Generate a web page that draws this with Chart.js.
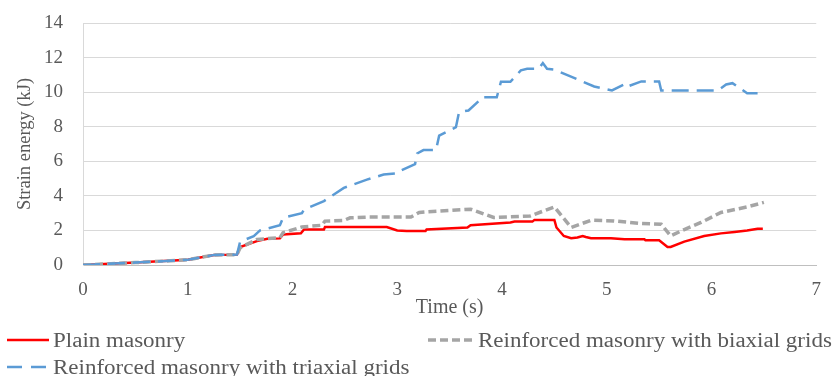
<!DOCTYPE html>
<html>
<head>
<meta charset="utf-8">
<script src="https://cdn.jsdelivr.net/npm/chart.js@4.4.1/dist/chart.umd.min.js"></script>
<style>
  html, body { margin: 0; padding: 0; background: #fff; }
  #wrap { position: relative; width: 835px; height: 376px; overflow: hidden; }
  canvas { position: absolute; left: 0; top: 0; }
  .leg { position: absolute; height: 20px; line-height: 20px; font-family: "Liberation Serif", "Times New Roman", serif; font-size: 20px; color: #595959; white-space: nowrap; display: flex; align-items: center; }
  .leg span { display: inline-block; transform: scaleX(1.15); transform-origin: 0 50%; margin-left: 4px; }
</style>
</head>
<body>
<div id="wrap">
  <canvas id="c" width="835" height="376"></canvas>
  <div class="leg" style="left:7px; top:330px;"><svg width="42" height="6"><line x1="0" y1="3" x2="42" y2="3" stroke="#FF0000" stroke-width="2.5"/></svg><span>Plain masonry</span></div>
  <div class="leg" style="left:428px; top:330px;"><svg width="46" height="6"><line x1="0" y1="3" x2="46" y2="3" stroke="#A5A5A5" stroke-width="3.5" stroke-dasharray="8,4"/></svg><span>Reinforced masonry with biaxial grids</span></div>
  <div class="leg" style="left:7px; top:356.5px;"><svg width="42" height="6"><line x1="0" y1="3" x2="42" y2="3" stroke="#5B9BD5" stroke-width="2.5" stroke-dasharray="15,9"/></svg><span>Reinforced masonry with triaxial grids</span></div>
</div>
<script>
// ---- data ----
const xTicks = [0, 1, 2, 3, 4, 5, 6, 7];
const yTicks = [0, 2, 4, 6, 8, 10, 12, 14];

const timePlain = [0, 0.5, 1.0, 1.25, 1.47, 1.5, 1.66, 1.76, 1.88, 1.91, 2.08, 2.11, 2.3, 2.31, 2.9, 3.0, 3.09, 3.27, 3.28, 3.67, 3.70, 4.08, 4.12, 4.29, 4.31, 4.50, 4.52, 4.59, 4.66, 4.72, 4.77, 4.80, 4.85, 5.04, 5.17, 5.36, 5.37, 5.50, 5.58, 5.61, 5.74, 5.93, 6.09, 6.22, 6.34, 6.44, 6.49];
const energyPlain = [0, 0.14, 0.3, 0.58, 0.6, 1.04, 1.38, 1.52, 1.54, 1.77, 1.83, 2.06, 2.06, 2.2, 2.2, 2.0, 1.97, 1.97, 2.05, 2.17, 2.30, 2.46, 2.51, 2.51, 2.61, 2.61, 2.17, 1.68, 1.55, 1.59, 1.68, 1.62, 1.55, 1.55, 1.49, 1.49, 1.43, 1.43, 1.04, 1.04, 1.35, 1.68, 1.83, 1.91, 2.0, 2.1, 2.1];

const timeBiaxial = [0, 0.5, 1.0, 1.25, 1.47, 1.5, 1.66, 1.88, 1.91, 2.09, 2.28, 2.31, 2.49, 2.55, 2.71, 3.13, 3.21, 3.27, 3.70, 3.92, 4.27, 4.50, 4.66, 4.85, 5.07, 5.33, 5.52, 5.61, 5.71, 5.90, 6.09, 6.34, 6.5];
const energyBiaxial = [0, 0.14, 0.3, 0.58, 0.6, 1.0, 1.48, 1.58, 1.87, 2.2, 2.3, 2.54, 2.58, 2.73, 2.77, 2.77, 3.04, 3.07, 3.23, 2.75, 2.84, 3.36, 2.17, 2.59, 2.55, 2.40, 2.36, 1.68, 1.97, 2.46, 3.04, 3.36, 3.62];

const timeTriaxial = [0, 0.5, 1.0, 1.25, 1.47, 1.5, 1.63, 1.69, 1.88, 1.91, 2.09, 2.11, 2.3, 2.49, 2.71, 2.87, 3.0, 3.03, 3.17, 3.19, 3.25, 3.37, 3.40, 3.56, 3.59, 3.68, 3.78, 3.80, 3.95, 3.99, 4.08, 4.18, 4.24, 4.35, 4.39, 4.43, 4.50, 4.63, 4.88, 5.05, 5.18, 5.20, 5.33, 5.50, 5.52, 6.06, 6.14, 6.20, 6.28, 6.34, 6.44];
const energyTriaxial = [0, 0.14, 0.3, 0.58, 0.6, 1.35, 1.67, 2.0, 2.3, 2.73, 3.0, 3.2, 3.7, 4.46, 4.94, 5.23, 5.3, 5.45, 5.84, 6.45, 6.65, 6.65, 7.48, 7.97, 8.84, 8.94, 9.5, 9.7, 9.7, 10.6, 10.6, 11.26, 11.35, 11.35, 11.68, 11.35, 11.3, 10.97, 10.33, 10.1, 10.48, 10.33, 10.62, 10.62, 10.1, 10.1, 10.44, 10.52, 10.19, 9.94, 9.94];

const seriesNames = ["Plain masonry", "Reinforced masonry with biaxial grids", "Reinforced masonry with triaxial grids"];

function pts(t, v) { return t.map((x, i) => ({ x: x, y: v[i] })); }

const FONT = "'Liberation Serif', 'Times New Roman', serif";
const TXT = "#595959";

new Chart(document.getElementById('c'), {
  type: 'line',
  data: {
    datasets: [
      { label: seriesNames[0], data: pts(timePlain, energyPlain), borderColor: '#FF0000', borderWidth: 2.5, pointRadius: 0, tension: 0, fill: false, order: 3 },
      { label: seriesNames[1], data: pts(timeBiaxial, energyBiaxial), borderColor: '#A5A5A5', borderWidth: 3.5, borderDash: [8, 4], pointRadius: 0, tension: 0, fill: false, order: 2 },
      { label: seriesNames[2], data: pts(timeTriaxial, energyTriaxial), borderColor: '#5B9BD5', borderWidth: 2.5, borderDash: [17, 8], pointRadius: 0, tension: 0, fill: false, order: 1 }
    ]
  },
  options: {
    responsive: false,
    animation: false,
    layout: { padding: { top: 0, right: 15, bottom: 56, left: 0 } },
    plugins: { legend: { display: false }, tooltip: { enabled: false } },
    scales: {
      x: {
        type: 'linear', min: 0, max: 7,
        afterBuildTicks: (s) => { s.ticks = xTicks.map(v => ({ value: v })); },
        afterFit: (s) => { s.height = 55; },
        grid: { display: false, drawTicks: false },
        border: { display: true, color: '#BFBFBF', width: 1 },
        ticks: { font: { family: FONT, size: 19 }, color: TXT, padding: 14, maxRotation: 0 },
        title: { display: true, text: 'Time (s)', font: { family: FONT, size: 20 }, color: TXT, padding: { top: 0, bottom: 0 } }
      },
      y: {
        type: 'linear', min: 0, max: 14,
        afterBuildTicks: (s) => { s.ticks = yTicks.map(v => ({ value: v })); },
        afterFit: (s) => { s.width = 83; s.paddingTop = 23; s.paddingBottom = 0; },
        grid: { color: '#D9D9D9', lineWidth: 1, drawTicks: false },
        border: { display: true, color: '#D9D9D9', width: 1 },
        ticks: { font: { family: FONT, size: 19 }, color: TXT, padding: 20 },
        title: { display: true, text: 'Strain energy (kJ)', font: { family: FONT, size: 18.5 }, color: TXT, padding: { top: 14, bottom: 0 } }
      }
    }
  }
});
</script>
</body>
</html>
